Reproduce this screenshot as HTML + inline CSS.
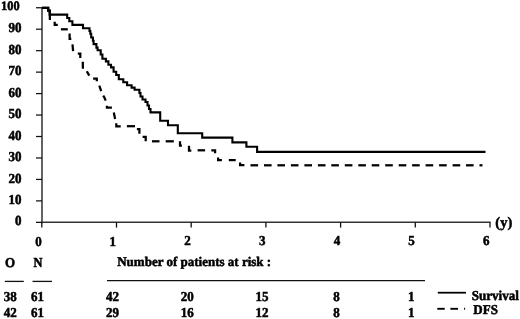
<!DOCTYPE html>
<html><head><meta charset="utf-8"><style>
html,body{margin:0;padding:0;background:#fff;width:520px;height:319px;overflow:hidden}
svg{display:block;filter:grayscale(1)}
text{font-family:"Liberation Serif", serif;font-weight:bold;font-size:13px;fill:#000;stroke:#000;stroke-width:0.5px;text-rendering:geometricPrecision}
</style></head><body>
<svg width="520" height="319" viewBox="0 0 520 319">
<rect width="520" height="319" fill="#fff"/>
<line x1="42.0" y1="7.15" x2="42.0" y2="223.25" stroke="#222" stroke-width="1.4"/>
<line x1="41.3" y1="222.15" x2="490.60" y2="222.15" stroke="#333" stroke-width="1.5"/>
<line x1="36.0" y1="222.35" x2="42.0" y2="222.35" stroke="#111" stroke-width="1.25"/>
<text transform="translate(21.50,225.45) scale(1.0,1.06)" text-anchor="end">0</text>
<line x1="36.0" y1="200.89" x2="42.0" y2="200.89" stroke="#111" stroke-width="1.25"/>
<text transform="translate(21.50,203.99) scale(1.0,1.06)" text-anchor="end">10</text>
<line x1="36.0" y1="179.43" x2="42.0" y2="179.43" stroke="#111" stroke-width="1.25"/>
<text transform="translate(21.50,182.53) scale(1.0,1.06)" text-anchor="end">20</text>
<line x1="36.0" y1="157.97" x2="42.0" y2="157.97" stroke="#111" stroke-width="1.25"/>
<text transform="translate(21.50,161.07) scale(1.0,1.06)" text-anchor="end">30</text>
<line x1="36.0" y1="136.51" x2="42.0" y2="136.51" stroke="#111" stroke-width="1.25"/>
<text transform="translate(21.50,139.61) scale(1.0,1.06)" text-anchor="end">40</text>
<line x1="36.0" y1="115.05" x2="42.0" y2="115.05" stroke="#111" stroke-width="1.25"/>
<text transform="translate(21.50,118.15) scale(1.0,1.06)" text-anchor="end">50</text>
<line x1="36.0" y1="93.59" x2="42.0" y2="93.59" stroke="#111" stroke-width="1.25"/>
<text transform="translate(21.50,96.69) scale(1.0,1.06)" text-anchor="end">60</text>
<line x1="36.0" y1="72.13" x2="42.0" y2="72.13" stroke="#111" stroke-width="1.25"/>
<text transform="translate(21.50,75.23) scale(1.0,1.06)" text-anchor="end">70</text>
<line x1="36.0" y1="50.67" x2="42.0" y2="50.67" stroke="#111" stroke-width="1.25"/>
<text transform="translate(21.50,53.77) scale(1.0,1.06)" text-anchor="end">80</text>
<line x1="36.0" y1="29.21" x2="42.0" y2="29.21" stroke="#111" stroke-width="1.25"/>
<text transform="translate(21.50,32.31) scale(1.0,1.06)" text-anchor="end">90</text>
<line x1="36.0" y1="7.75" x2="42.0" y2="7.75" stroke="#111" stroke-width="1.25"/>
<text transform="translate(19.60,10.05) scale(0.95,1.0)" text-anchor="end">100</text>
<line x1="41.80" y1="222.35" x2="41.80" y2="227.6" stroke="#111" stroke-width="1.3"/>
<text transform="translate(38.60,245.90) scale(1.0,1.05)" text-anchor="middle">0</text>
<line x1="116.50" y1="222.35" x2="116.50" y2="227.6" stroke="#111" stroke-width="1.3"/>
<text transform="translate(112.80,245.50) scale(1.0,1.05)" text-anchor="middle">1</text>
<line x1="191.20" y1="222.35" x2="191.20" y2="227.6" stroke="#111" stroke-width="1.3"/>
<text transform="translate(187.50,245.20) scale(1.0,1.05)" text-anchor="middle">2</text>
<line x1="265.90" y1="222.35" x2="265.90" y2="227.6" stroke="#111" stroke-width="1.3"/>
<text transform="translate(262.20,245.30) scale(1.0,1.05)" text-anchor="middle">3</text>
<line x1="340.60" y1="222.35" x2="340.60" y2="227.6" stroke="#111" stroke-width="1.3"/>
<text transform="translate(336.90,245.20) scale(1.0,1.05)" text-anchor="middle">4</text>
<line x1="415.30" y1="222.35" x2="415.30" y2="227.6" stroke="#111" stroke-width="1.3"/>
<text transform="translate(411.60,245.20) scale(1.0,1.05)" text-anchor="middle">5</text>
<line x1="490.00" y1="222.35" x2="490.00" y2="227.6" stroke="#111" stroke-width="1.3"/>
<text transform="translate(486.30,245.00) scale(1.0,1.05)" text-anchor="middle">6</text>
<text x="495.30" y="226.50" style="font-size:14.5px">(y)</text>
<path d="M42.0,7.9 L48.2,7.9 L48.2,10.6 L49.7,10.6 L49.7,14.6 L67.2,14.6 L67.2,18.0 L69.3,18.0 L69.3,21.3 L72.4,21.3 L72.4,24.9 L83.0,24.9 L83.0,28.3 L89.5,28.3 L89.5,31.0 L90.3,31.0 L90.3,33.8 L91.2,33.8 L91.2,37.5 L92.9,37.5 L92.9,40.7 L93.6,40.7 L93.6,44.1 L96.4,44.1 L96.4,47.6 L97.6,47.6 L97.6,50.2 L100.7,50.2 L100.7,54.5 L102.4,54.5 L102.4,58.8 L105.9,58.8 L105.9,61.4 L108.4,61.4 L108.4,64.8 L111.0,64.8 L111.0,67.4 L113.6,67.4 L113.6,71.7 L116.2,71.7 L116.2,75.0 L118.8,75.0 L118.8,79.3 L123.3,79.3 L123.3,82.3 L127.1,82.3 L127.1,85.3 L131.6,85.3 L131.6,87.6 L134.6,87.6 L134.6,89.8 L138.4,89.8 L139.4,89.8 L139.4,93.0 L140.5,93.0 L140.5,96.5 L142.5,96.5 L142.5,99.5 L145.5,99.5 L145.5,102.0 L147.5,102.0 L147.5,105.5 L149.0,105.5 L149.0,109.0 L150.5,109.0 L150.5,112.4 L160.2,112.4 L160.2,120.7 L168.0,120.7 L168.0,125.2 L177.8,125.2 L177.8,133.2 L202.2,133.2 L202.2,137.6 L232.4,137.6 L232.4,142.4 L246.4,142.4 L246.4,146.8 L257.1,146.8 L257.1,151.9 L485.5,151.9" fill="none" stroke="#000" stroke-width="2.1" stroke-linejoin="miter"/>
<path d="M42.0,7.9 L48.2,7.9 L48.2,10.6 L49.7,10.6 L49.9,19.9" fill="none" stroke="#000" stroke-width="2.25"/>
<path d="M54.7,21.8 L54.7,24.9 L57.8,24.9" fill="none" stroke="#000" stroke-width="2.25"/>
<path d="M60.9,29.3 L67.8,29.3" fill="none" stroke="#000" stroke-width="2.25"/>
<path d="M69.6,33.6 L69.6,38.9 L71.3,38.9" fill="none" stroke="#000" stroke-width="2.25"/>
<path d="M72.5,44.3 L73.1,51.2" fill="none" stroke="#000" stroke-width="2.25"/>
<path d="M77.8,53.7 L80.3,53.7 L80.3,58.1" fill="none" stroke="#000" stroke-width="2.25"/>
<path d="M82.8,61.8 L82.9,68.7" fill="none" stroke="#000" stroke-width="2.25"/>
<path d="M86.8,71.2 L89.3,75.6" fill="none" stroke="#000" stroke-width="2.25"/>
<path d="M93.1,78.7 L96.8,78.7 L96.8,81.2" fill="none" stroke="#000" stroke-width="2.25"/>
<path d="M99.3,85.6 L101.2,91.2" fill="none" stroke="#000" stroke-width="2.25"/>
<path d="M103.2,95.6 L104.4,97.5 L105.7,100.7" fill="none" stroke="#000" stroke-width="2.25"/>
<path d="M106.9,105.7 L106.9,107.6 L111.9,107.6" fill="none" stroke="#000" stroke-width="2.25"/>
<path d="M113.8,112.6 L115.1,118.9" fill="none" stroke="#000" stroke-width="2.25"/>
<path d="M116.3,123.2 L116.3,126.4 L120.7,126.4" fill="none" stroke="#000" stroke-width="2.25"/>
<path d="M126.9,126.2 L135.0,126.2" fill="none" stroke="#000" stroke-width="2.25"/>
<path d="M136.9,129.0 L139.4,129.0 L139.4,133.8" fill="none" stroke="#000" stroke-width="2.25"/>
<path d="M142.6,136.9 L145.7,136.9 L145.7,141.3" fill="none" stroke="#000" stroke-width="2.25"/>
<path d="M152.0,141.3 L159.5,141.3" fill="none" stroke="#000" stroke-width="2.25"/>
<path d="M165.7,141.3 L173.8,141.3" fill="none" stroke="#000" stroke-width="2.25"/>
<path d="M180.0,141.3 L180.0,145.7 L181.9,145.7" fill="none" stroke="#000" stroke-width="2.25"/>
<path d="M189.0,145.7 L189.0,150.5 L191.3,150.5" fill="none" stroke="#000" stroke-width="2.25"/>
<path d="M197.6,150.3 L205.1,150.3" fill="none" stroke="#000" stroke-width="2.25"/>
<path d="M211.3,150.3 L215.1,150.3 L215.1,153.2" fill="none" stroke="#000" stroke-width="2.25"/>
<path d="M218.1,157.4 L218.1,160.1 L221.9,160.1" fill="none" stroke="#000" stroke-width="2.25"/>
<path d="M228.8,160.1 L235.7,160.1" fill="none" stroke="#000" stroke-width="2.25"/>
<path d="M240.1,162.6 L240.1,165.2 L244.4,165.2" fill="none" stroke="#000" stroke-width="2.25"/>
<path d="M250.5,165.3 L258.1,165.3" fill="none" stroke="#000" stroke-width="2.25"/>
<path d="M264.0,165.3 L271.6,165.3" fill="none" stroke="#000" stroke-width="2.25"/>
<path d="M277.4,165.3 L285.0,165.3" fill="none" stroke="#000" stroke-width="2.25"/>
<path d="M290.9,165.3 L298.5,165.3" fill="none" stroke="#000" stroke-width="2.25"/>
<path d="M304.4,165.3 L312.0,165.3" fill="none" stroke="#000" stroke-width="2.25"/>
<path d="M317.9,165.3 L325.5,165.3" fill="none" stroke="#000" stroke-width="2.25"/>
<path d="M331.3,165.3 L338.9,165.3" fill="none" stroke="#000" stroke-width="2.25"/>
<path d="M344.8,165.3 L352.4,165.3" fill="none" stroke="#000" stroke-width="2.25"/>
<path d="M358.3,165.3 L365.9,165.3" fill="none" stroke="#000" stroke-width="2.25"/>
<path d="M371.7,165.3 L379.3,165.3" fill="none" stroke="#000" stroke-width="2.25"/>
<path d="M385.2,165.3 L392.8,165.3" fill="none" stroke="#000" stroke-width="2.25"/>
<path d="M398.7,165.3 L406.3,165.3" fill="none" stroke="#000" stroke-width="2.25"/>
<path d="M412.1,165.3 L419.7,165.3" fill="none" stroke="#000" stroke-width="2.25"/>
<path d="M425.6,165.3 L433.2,165.3" fill="none" stroke="#000" stroke-width="2.25"/>
<path d="M439.1,165.3 L446.7,165.3" fill="none" stroke="#000" stroke-width="2.25"/>
<path d="M452.6,165.3 L460.2,165.3" fill="none" stroke="#000" stroke-width="2.25"/>
<path d="M466.0,165.3 L473.6,165.3" fill="none" stroke="#000" stroke-width="2.25"/>
<path d="M479.5,165.3 L482.5,165.3" fill="none" stroke="#000" stroke-width="2.25"/>
<text transform="translate(5.00,266.80) scale(1.0,1.05)">O</text>
<text transform="translate(33.60,266.80) scale(0.95,1.05)">N</text>
<text transform="translate(117.20,266.00) scale(1.0,1.02)">Number of patients at risk :</text>
<line x1="4.8" y1="281.4" x2="23.8" y2="281.4" stroke="#111" stroke-width="1.3"/>
<line x1="32.5" y1="281.4" x2="52" y2="281.4" stroke="#111" stroke-width="1.3"/>
<line x1="107" y1="280.6" x2="425" y2="280.6" stroke="#111" stroke-width="1.4"/>
<text transform="translate(3.70,301.00) scale(1.0,1.05)">38</text>
<text transform="translate(30.90,301.00) scale(1.0,1.05)">61</text>
<text transform="translate(112.50,301.00) scale(1.0,1.05)" text-anchor="middle">42</text>
<text transform="translate(187.20,301.00) scale(1.0,1.05)" text-anchor="middle">20</text>
<text transform="translate(261.90,301.00) scale(1.0,1.05)" text-anchor="middle">15</text>
<text transform="translate(336.60,301.00) scale(1.0,1.05)" text-anchor="middle">8</text>
<text transform="translate(411.30,301.00) scale(1.0,1.05)" text-anchor="middle">1</text>
<text transform="translate(3.70,317.00) scale(1.0,1.05)">42</text>
<text transform="translate(30.90,317.00) scale(1.0,1.05)">61</text>
<text transform="translate(112.50,317.00) scale(1.0,1.05)" text-anchor="middle">29</text>
<text transform="translate(187.20,317.00) scale(1.0,1.05)" text-anchor="middle">16</text>
<text transform="translate(261.90,317.00) scale(1.0,1.05)" text-anchor="middle">12</text>
<text transform="translate(336.60,317.00) scale(1.0,1.05)" text-anchor="middle">8</text>
<text transform="translate(411.30,317.00) scale(1.0,1.05)" text-anchor="middle">1</text>
<line x1="437.8" y1="292.7" x2="466" y2="292.7" stroke="#000" stroke-width="1.8"/>
<text transform="translate(471.80,299.90) scale(1.0,1.05)">Survival</text>
<line x1="437.3" y1="308.8" x2="444.7" y2="308.8" stroke="#000" stroke-width="1.9"/>
<line x1="450.4" y1="308.8" x2="458" y2="308.8" stroke="#000" stroke-width="1.9"/>
<line x1="464.1" y1="308.8" x2="465.1" y2="308.8" stroke="#000" stroke-width="1.9"/>
<text transform="translate(473.30,314.20) scale(1.0,1.04)">DFS</text>
</svg>
</body></html>
